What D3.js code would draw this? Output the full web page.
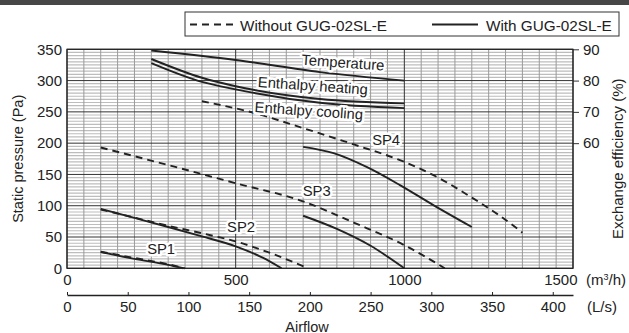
<!DOCTYPE html>
<html><head><meta charset="utf-8">
<script src="https://cdn.jsdelivr.net/npm/d3@7"></script>
<style>
html,body{margin:0;padding:0;background:#fff;}
svg, svg text{font-family:"Liberation Sans",Arial,Helvetica,sans-serif;}
svg{display:block;}
</style></head>
<body>
<svg id="c" width="629" height="333"></svg>
<script>
// ---- data (airflow in m3/h, static pressure in Pa, efficiency in %) ----
const pressureTicks = [0,50,100,150,200,250,300,350];
const efficiencyTicks = [60,70,80,90];
const airflowM3hTicks = [0,500,1000,1500];
const airflowLsTicks = [0,50,100,150,200,250,300,350,400];

const sp1Without = [[100,26.5],[200,16.5],[300,6.5],[350,0]];
const sp1With    = [[100,26],[200,15],[300,5.5],[345,0]];
const sp2Without = [[100,94],[200,81],[300,68],[400,56],[500,43],[600,25],[715,0]];
const sp2With    = [[100,95],[200,80.5],[300,66],[400,51],[500,35],[580,17],[636,0]];
const sp3Without = [[100,193],[300,165],[500,136],[700,107],[850,73],[1000,37],[1120,0]];
const sp3With    = [[700,84],[800,63],[900,36],[1000,0]];
const sp4Without = [[400,267],[550,249],[700,224],[850,198],[1000,170],[1100,145],[1200,113],[1283,84],[1350,57]];
const sp4With    = [[700,194],[790,184],[888,162],[987,133],[1086,101],[1200,66]];

const effTemperature = [[250,89.6],[500,86.6],[750,82.7],[1000,80]];
const effHeating     = [[250,86.9],[400,80.9],[500,78.2],[750,74.1],[1000,72.7]];
const effCooling     = [[250,85.6],[400,79.6],[500,77.2],[750,72.9],[1000,71.2]];

const legendLabels = ["Without GUG-02SL-E","With GUG-02SL-E"];

// ---- layout ----
const svg = d3.select("#c");
const L = 67, R = 573, T = 49.3, B = 268.3;
const x = d3.scaleLinear().domain([0,1500]).range([L,R]);
const xLs = d3.scaleLinear().domain([0,1500/3.6]).range([L,R]);
const y = d3.scaleLinear().domain([0,350]).range([B,T]);
const yE = d3.scaleLinear().domain([20,90]).range([B,T]);
const ink = "#222";
const FF = '"Liberation Sans", Arial, Helvetica, sans-serif';

// header band
svg.append("rect").attr("x",0).attr("y",0).attr("width",629).attr("height",5).attr("fill","#474747");

// grid
const g = svg.append("g");
g.selectAll(".hm").data(d3.range(0,351,5).filter(v=>v%50!==0)).join("line")
  .attr("x1",L).attr("x2",R).attr("y1",d=>y(d)).attr("y2",d=>y(d))
  .attr("stroke","#bdbdbd").attr("stroke-width",1.2);
g.selectAll(".vm").data(d3.range(50,1500,50).filter(v=>v%500!==0)).join("line")
  .attr("y1",T).attr("y2",B).attr("x1",d=>x(d)).attr("x2",d=>x(d))
  .attr("stroke","#9a9a9a").attr("stroke-width",1);
g.selectAll(".hM").data(pressureTicks).join("line")
  .attr("x1",L).attr("x2",R).attr("y1",d=>y(d)).attr("y2",d=>y(d))
  .attr("stroke","#333").attr("stroke-width",1);
g.selectAll(".vM").data(airflowM3hTicks).join("line")
  .attr("y1",T).attr("y2",B).attr("x1",d=>x(d)).attr("x2",d=>x(d))
  .attr("stroke","#333").attr("stroke-width",1);

// axes
const fs = "15px";
function styleAxis(sel){
  sel.attr("font-family",FF).attr("font-size",fs);
  sel.selectAll("text").attr("fill",ink);
}
const fmt = d3.format("d");
const ax = svg.append("g").attr("transform",`translate(${L},0)`)
  .call(d3.axisLeft(y).tickValues(pressureTicks).tickFormat(fmt).tickSize(0).tickPadding(5));
ax.select(".domain").remove();
styleAxis(ax);

const axR = svg.append("g").attr("transform",`translate(${R},0)`)
  .call(d3.axisRight(yE).tickValues(efficiencyTicks).tickFormat(fmt).tickSize(6).tickPadding(4));
axR.select(".domain").remove();
axR.selectAll("line").attr("stroke","#333");
styleAxis(axR);

const axB = svg.append("g").attr("transform",`translate(0,${B})`)
  .call(d3.axisBottom(x).tickValues(airflowM3hTicks).tickFormat(fmt).tickSize(0).tickPadding(6));
axB.select(".domain").remove();
styleAxis(axB);
axB.selectAll("text").filter(d=>d===1500).attr("text-anchor","end").attr("dx","4px");

const axL = svg.append("g").attr("transform",`translate(0,295)`)
  .call(d3.axisBottom(xLs).tickValues(airflowLsTicks).tickFormat(fmt).tickSizeInner(-3).tickSizeOuter(0).tickPadding(6));
axL.select(".domain").attr("stroke",ink).attr("stroke-width",1.3);
axL.selectAll("line").attr("stroke",ink);
styleAxis(axL);

svg.append("text").attr("x",586).attr("y",285).attr("font-size",fs).attr("fill",ink)
  .html('(m<tspan baseline-shift="super" font-size="9px">3</tspan>/h)');
svg.append("text").attr("x",587).attr("y",311.5).attr("font-size",fs).attr("fill",ink).text("(L/s)");

svg.append("text").attr("x",307).attr("y",331.5).attr("text-anchor","middle").attr("font-size","14.5px").attr("fill",ink).text("Airflow");
svg.append("text").attr("transform",`translate(18,${(T+B)/2}) rotate(-90)`).attr("dy","0.35em")
  .attr("text-anchor","middle").attr("font-size","14.5px").attr("fill",ink).text("Static pressure (Pa)");
svg.append("text").attr("transform",`translate(618,${(T+B)/2}) rotate(-90)`).attr("dy","0.35em")
  .attr("text-anchor","middle").attr("font-size","15px").attr("fill",ink).text("Exchange efficiency (%)");

// curves
const lineP = d3.line().x(d=>x(d[0])).y(d=>y(d[1])).curve(d3.curveMonotoneX);
const lineE = d3.line().x(d=>x(d[0])).y(d=>yE(d[1])).curve(d3.curveMonotoneX);
const curves = svg.append("g").attr("fill","none").attr("stroke",ink).attr("stroke-width",1.9);
[sp1Without,sp2Without,sp3Without,sp4Without].forEach(s=>curves.append("path").attr("d",lineP(s)).attr("stroke-dasharray","7,5"));
[sp1With,sp2With,sp3With,sp4With].forEach(s=>curves.append("path").attr("d",lineP(s)));
[effTemperature,effHeating,effCooling].forEach(s=>curves.append("path").attr("d",lineE(s)));

// border
svg.append("rect").attr("x",L).attr("y",T).attr("width",R-L).attr("height",B-T)
  .attr("fill","none").attr("stroke",ink).attr("stroke-width",1.2);

// curve labels (anchored in data coordinates)
function label(txt, v, py, rot, scale){
  const sy = scale===yE ? yE(py) : y(py);
  svg.append("text").attr("transform",`translate(${x(v)},${sy}) rotate(${rot})`)
    .attr("text-anchor","middle").attr("dy","0.35em").attr("font-size","14.8px")
    .attr("fill",ink).attr("stroke","#fff").attr("stroke-width",5).attr("stroke-linejoin","round")
    .attr("paint-order","stroke").text(txt);
}
label("Temperature",818,85.8,4,yE);
label("Enthalpy heating",729,78.4,4,yE);
label("Enthalpy cooling",717,70.4,4,yE);
label("SP4",946,205,0,y);
label("SP3",740,124,0,y);
label("SP2",516,66.5,0,y);
label("SP1",279,30.8,0,y);

// legend
const lg = svg.append("g");
lg.append("rect").attr("x",185).attr("y",12).attr("width",434).attr("height",24)
  .attr("fill","#fff").attr("stroke","#333").attr("stroke-width",1);
lg.append("line").attr("x1",190).attr("x2",236).attr("y1",24.5).attr("y2",24.5)
  .attr("stroke",ink).attr("stroke-width",1.9).attr("stroke-dasharray","7,5");
lg.append("text").attr("x",240).attr("y",30.5).attr("font-size","15.3px").attr("fill",ink).text(legendLabels[0]);
lg.append("line").attr("x1",432).attr("x2",478).attr("y1",24.5).attr("y2",24.5)
  .attr("stroke",ink).attr("stroke-width",1.9);
lg.append("text").attr("x",486).attr("y",30.5).attr("font-size","15.3px").attr("fill",ink).text(legendLabels[1]);
</script>
</body></html>
